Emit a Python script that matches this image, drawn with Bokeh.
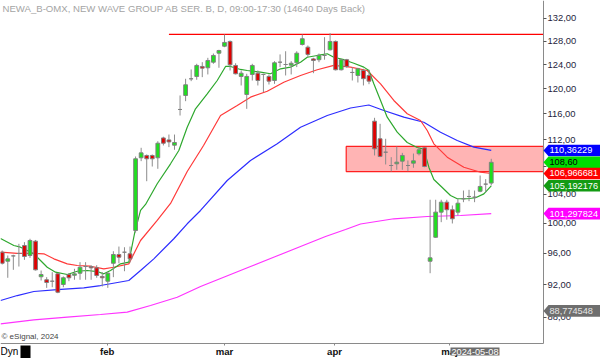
import math
from bokeh.plotting import figure
from bokeh.models import (Range1d, FixedTicker, Label, PolyAnnotation, BoxAnnotation,
                          ColumnDataSource, CustomJSTickFormatter)
from bokeh.embed import file_html
from bokeh.resources import INLINE

title_text = "NEWA_B-OMX, NEW WAVE GROUP AB SER. B, D, 09:00-17:30 (14640 Days Back)"
copyright_text = "\u00a9 eSignal, 2024"
cursor_date = "2024-05-08"

# daily candles (bar index 0..88)
opens = [96.13, 94.96, 95.65, 95.96, 97.01, 95.70, 97.58, 92.98, 92.60, 92.42,
         93.35, 92.01, 93.26, 93.17, 93.43, 94.28, 94.28, 94.11, 93.02, 92.42,
         94.70, 95.83, 96.13, 95.92, 99.00, 109.27, 109.61, 109.61, 109.27, 112.25,
         111.95, 111.15, 116.67, 118.91, 121.63, 122.02, 123.68, 123.46, 124.40, 125.93,
         127.13, 127.95, 123.85, 122.02, 119.07, 122.35, 122.56, 122.35, 122.02, 121.35,
         124.40, 124.01, 123.90, 124.30, 127.42, 126.96, 124.96, 124.82, 125.54, 126.51,
         127.95, 123.13, 124.82, 122.68, 122.18, 123.01, 122.18, 114.83, 112.12, 110.10,
         108.13, 108.38, 108.77, 108.13, 108.47, 109.87, 110.76, 94.96, 98.10, 101.50,
         102.88, 101.83, 101.50, 103.36, 103.68, 103.58, 104.42, 105.43, 105.58]
highs = [96.35, 95.70, 95.80, 97.23, 97.45, 97.90, 97.74, 93.77, 92.93, 93.56,
         93.43, 93.02, 93.43, 93.99, 94.84, 94.84, 94.45, 94.45, 93.56, 93.56,
         96.26, 96.87, 96.78, 96.87, 109.46, 110.76, 109.76, 109.76, 111.75, 112.44,
         112.77, 112.77, 118.91, 121.63, 123.18, 124.13, 124.40, 125.14, 125.87, 126.51,
         129.17, 128.12, 124.22, 123.01, 122.46, 124.13, 123.01, 122.46, 122.35, 124.57,
         125.72, 126.26, 124.57, 126.26, 129.17, 127.25, 125.14, 125.87, 128.70, 129.40,
         128.12, 124.96, 124.96, 123.57, 123.46, 123.29, 123.13, 115.36, 114.42, 112.12,
         109.36, 110.96, 110.00, 108.87, 109.90, 110.76, 110.86, 103.22, 103.22, 103.22,
         103.22, 102.42, 103.36, 104.52, 104.62, 104.52, 106.67, 106.15, 109.12]
lows = [94.54, 92.85, 93.86, 94.28, 95.14, 95.40, 93.77, 92.51, 91.59, 91.67,
        90.93, 91.67, 92.42, 92.60, 92.60, 92.60, 92.60, 92.85, 91.76, 91.59,
        92.93, 94.70, 93.68, 94.80, 98.73, 108.77, 105.85, 107.98, 107.65, 111.11,
        110.86, 110.46, 115.72, 117.99, 121.24, 121.47, 121.90, 122.35, 124.13, 123.46,
        126.96, 123.01, 122.35, 120.53, 116.77, 121.35, 120.53, 119.45, 120.69, 120.80,
        123.57, 122.18, 122.35, 123.57, 127.25, 125.24, 122.56, 124.40, 124.82, 126.39,
        123.01, 123.01, 123.46, 121.35, 121.02, 120.53, 120.74, 109.61, 109.36, 108.28,
        107.25, 107.50, 107.50, 107.30, 107.80, 109.61, 107.88, 93.43, 98.02, 100.13,
        100.46, 99.95, 101.04, 102.88, 103.02, 102.88, 104.28, 104.28, 105.24]
closes = [94.70, 95.27, 95.65, 95.96, 95.57, 97.67, 93.86, 93.26, 92.26, 92.42,
          91.05, 92.85, 92.85, 93.35, 94.19, 94.28, 94.11, 93.14, 92.85, 93.43,
          95.83, 95.48, 96.13, 95.27, 109.12, 110.00, 109.12, 109.12, 111.45, 111.45,
          111.65, 111.56, 116.67, 120.64, 121.63, 123.85, 123.40, 124.69, 125.54, 126.39,
          127.78, 123.96, 122.46, 122.56, 122.02, 123.85, 121.35, 122.35, 121.24, 124.30,
          124.40, 124.01, 124.22, 125.93, 128.42, 125.72, 124.69, 125.54, 125.54, 127.95,
          123.13, 124.82, 123.68, 122.68, 123.29, 121.65, 121.24, 110.60, 109.46, 110.10,
          108.13, 108.62, 109.61, 108.13, 108.82, 110.46, 107.98, 95.40, 101.50, 102.88,
          101.83, 100.59, 102.74, 103.36, 103.68, 103.58, 105.10, 105.43, 108.60]

# moving averages (bar index, price)
ma_fast_x = [-0.3, 2.09, 3.29, 4.5, 5.69, 6.89, 8.10, 9.59, 11.70, 13.50, 15.30, 17.10,
             18.28, 19.49, 21.29, 22.78, 23.81, 24.89, 25.79, 27.89, 30.29, 31.78, 33.29,
             34.78, 36.89, 38.69, 40.19, 41.08, 42.88, 44.09, 46.48, 48.28, 50.08, 51.88,
             53.68, 54.89, 56.69, 58.49, 59.67, 61.47, 63.27, 65.07, 65.97, 66.87, 68.08,
             69.28, 71.08, 72.88, 74.68, 75.87, 76.77, 77.67, 79.18, 80.67, 81.88, 83.68,
             85.18, 86.67, 88.0]
ma_fast_y = [97.93, 97.01, 96.79, 96.35, 95.92, 95.05, 94.19, 93.56, 93.27, 93.68, 93.77,
             93.64, 93.35, 93.77, 94.63, 94.84, 98.60, 101.73, 102.56, 105.48, 108.38,
             110.35, 113.90, 116.78, 119.18, 121.35, 123.68, 123.68, 123.18, 123.01, 122.73,
             122.46, 123.29, 123.57, 124.40, 125.24, 125.54, 125.83, 125.24, 124.82, 124.22,
             123.57, 123.01, 120.80, 118.10, 115.46, 113.13, 111.56, 110.80, 110.55, 107.88,
             106.09, 104.95, 103.82, 103.36, 103.36, 103.50, 104.05, 105.192176]

ma_mid_x = [-0.3, 2.70, 5.69, 7.49, 9.29, 11.70, 13.50, 15.89, 18.28, 20.08, 22.78, 24.89,
            27.89, 30.29, 33.29, 36.23, 39.29, 42.29, 44.68, 47.69, 50.67, 53.68, 56.69,
            59.67, 62.68, 65.68, 68.08, 70.47, 72.88, 75.27, 76.48, 77.67, 80.08, 83.07,
            86.07, 88.0]
ma_mid_y = [96.13, 95.99, 95.99, 95.92, 95.27, 94.62, 94.41, 94.32, 93.99, 94.19, 94.62,
            97.67, 100.36, 102.70, 107.25, 111.11, 115.72, 117.30, 118.64, 119.60, 121.07,
            122.18, 123.13, 123.85, 123.57, 123.01, 120.80, 118.10, 115.99, 114.94, 113.39,
            111.36, 109.36, 107.88, 107.15, 106.966681]

ma_slow_x = [-0.3, 2.70, 5.69, 9.90, 14.68, 17.69, 22.78, 24.89, 27.28, 30.88, 33.29,
             35.69, 40.49, 44.68, 49.49, 53.68, 58.49, 62.68, 65.97, 68.67, 72.27, 75.87,
             78.87, 81.88, 84.87, 88.0]
ma_slow_y = [90.03, 90.64, 91.14, 91.38, 91.59, 91.88, 92.51, 93.77, 95.27, 97.90, 99.91,
             101.73, 105.95, 108.87, 111.36, 113.90, 115.72, 116.90, 117.38, 116.51, 115.46,
             114.67, 113.13, 111.86, 110.86, 110.36229]

ma_long_x = [-0.3, 5.69, 11.70, 17.69, 22.49, 26.69, 31.49, 35.69, 40.19, 44.68, 49.18,
             53.68, 58.18, 61.78, 64.48, 70.47, 76.48, 82.47, 88.0]
ma_long_y = [87.23, 87.70, 88.02, 88.34, 88.62, 89.42, 90.43, 91.76, 93.02, 94.28, 95.57,
             96.88, 98.20, 99.14, 99.88, 100.59, 100.90, 101.04, 101.297824]

month_pos = [18.9, 40.0, 59.8, 80.5]
month_labels = ["feb", "mar", "apr", "maj"]
price_ticks = [88, 92, 96, 100, 104, 108, 112, 116, 120, 124, 128, 132]

resistance_level = 129.2
resistance_start = 30
zone_low, zone_high, zone_start = 107.25, 110.96, 61.9

tag_values = [110.36229, 108.60, 106.966681, 105.192176, 101.297824, 88.774548]
tag_texts = ["110,36229", "108,60", "106,966681", "105,192176", "101,297824", "88,774548"]
tag_fills = ["#0000ff", "#00dd00", "#ff0000", "#139b13", "#ff00ff", "#6e6e6e"]
tag_text_colors = ["white", "black", "white", "white", "white", "#e6e6e6"]

# data window: price pane ends at x_axis_pos / y_axis_pos, full canvas beyond
x_start, x_axis_pos, x_end = -0.31, 97.41, 107.66
y_axis_pos, y_top, y_bottom = 84.93, 135.26, 83.22

FONT = "Liberation Sans"
W, H = 600, 358

p = figure(width=W, height=H, output_backend="svg", toolbar_location=None,
           x_range=Range1d(x_start, x_end), y_range=Range1d(y_bottom, y_top),
           y_axis_type="log", y_axis_location="right",
           min_border_left=0, min_border_right=0, min_border_top=0, min_border_bottom=0)
p.outline_line_color = None
p.grid.visible = False
p.background_fill_color = "white"
p.border_fill_color = "white"

# right price axis
ya = p.yaxis[0]
ya.fixed_location = x_axis_pos
ya.bounds = (y_axis_pos, y_top)
ya.ticker = FixedTicker(ticks=price_ticks)
ya.formatter = CustomJSTickFormatter(code="return tick.toFixed(2).replace('.', ',');")
ya.axis_line_color = "#8a8a8a"
ya.major_tick_line_color = "#555555"
ya.major_tick_out = 3
ya.major_tick_in = 0
ya.minor_tick_line_color = None
ya.major_label_standoff = 1
ya.major_label_text_font = FONT
ya.major_label_text_font_size = "9.4px"
ya.major_label_text_color = "#1e1e3c"

# bottom date axis
xa = p.xaxis[0]
xa.fixed_location = y_axis_pos
xa.bounds = (x_start, x_axis_pos)
xa.ticker = FixedTicker(ticks=month_pos)
xa.formatter = CustomJSTickFormatter(args=dict(pos=month_pos, labels=month_labels), code="""
let best = 0;
for (let i = 0; i < pos.length; i++) {
  if (Math.abs(pos[i] - tick) < Math.abs(pos[best] - tick)) best = i;
}
return labels[best];
""")
xa.axis_line_color = "#8a8a8a"
xa.major_tick_line_color = "#8a8a8a"
xa.major_tick_out = 2
xa.major_tick_in = 0
xa.minor_tick_line_color = None
xa.major_label_standoff = 0
xa.major_label_text_font = FONT
xa.major_label_text_font_size = "9.6px"
xa.major_label_text_font_style = "bold"
xa.major_label_text_color = "#111111"

# support/resistance zone and line
p.quad(left=[zone_start], right=[x_axis_pos], bottom=[zone_low], top=[zone_high],
       fill_color="#ffb4b4", line_color="#ff2020", line_width=1.2)
p.segment(x0=[resistance_start], x1=[x_axis_pos], y0=[resistance_level], y1=[resistance_level],
          line_color="#ff0000", line_width=1.2)

# moving averages
p.line(ma_long_x, ma_long_y, line_color="#ff33ff", line_width=1.2)
p.line(ma_slow_x, ma_slow_y, line_color="#2d2dff", line_width=1.2)
p.line(ma_mid_x, ma_mid_y, line_color="#ff3a3a", line_width=1.2)
p.line(ma_fast_x, ma_fast_y, line_color="#2ea82e", line_width=1.2)

# candles
idx = list(range(len(closes)))
body_top = [max(o, c) for o, c in zip(opens, closes)]
body_bot = [min(o, c) for o, c in zip(opens, closes)]
colors = ["#1ee01e" if c > o else ("#e00000" if c < o else "#8a8a8a") for o, c in zip(opens, closes)]
src = ColumnDataSource(dict(x=idx, high=highs, low=lows, top=body_top, bottom=body_bot, color=colors))
p.segment(x0="x", x1="x", y0="low", y1="high", source=src, line_color="#8c8c8c", line_width=1)
p.vbar(x="x", width=0.68, top="top", bottom="bottom", source=src,
       fill_color="color", line_color="#808080", line_width=1)

# price tags on the right axis
f = (y_top / y_axis_pos) ** (5.8 / 343.0)
for v, t, fc, tc in zip(tag_values, tag_texts, tag_fills, tag_text_colors):
    p.add_layout(PolyAnnotation(xs=[543, 548, 600, 600, 548], ys=[v, v * f, v * f, v / f, v / f],
                                xs_units="screen", ys_units="data",
                                fill_color=fc, fill_alpha=1.0, line_color=None))
    p.add_layout(Label(x=549, y=v, x_units="screen", y_units="data", text=t,
                       text_baseline="middle", text_align="left", text_font=FONT,
                       text_font_size="9.2px", text_color=tc))

# texts (screen units: x from left, y from bottom of the canvas)
p.add_layout(Label(x=2, y=H - 8, x_units="screen", y_units="screen", text=title_text,
                   text_baseline="middle", text_font=FONT, text_font_size="9.6px",
                   text_color="#a4a4a4"))
p.add_layout(Label(x=1, y=H - 336, x_units="screen", y_units="screen", text=copyright_text,
                   text_baseline="middle", text_font=FONT, text_font_size="8px",
                   text_color="#444444"))
p.add_layout(Label(x=0, y=H - 351, x_units="screen", y_units="screen", text="Dyn",
                   text_baseline="middle", text_font=FONT, text_font_size="10px",
                   text_color="black"))
p.add_layout(BoxAnnotation(left=20, right=30, top=H - 345, bottom=0,
                           left_units="screen", right_units="screen",
                           top_units="screen", bottom_units="screen",
                           fill_color="black", fill_alpha=1.0, line_color=None))
p.add_layout(Label(x=450, y=H - 351, x_units="screen", y_units="screen", text=cursor_date,
                   text_baseline="middle", text_font=FONT, text_font_size="9.2px",
                   text_color="white", background_fill_color="#6d6d6d", padding=1))

open("out.html", "w").write(file_html(p, INLINE))
